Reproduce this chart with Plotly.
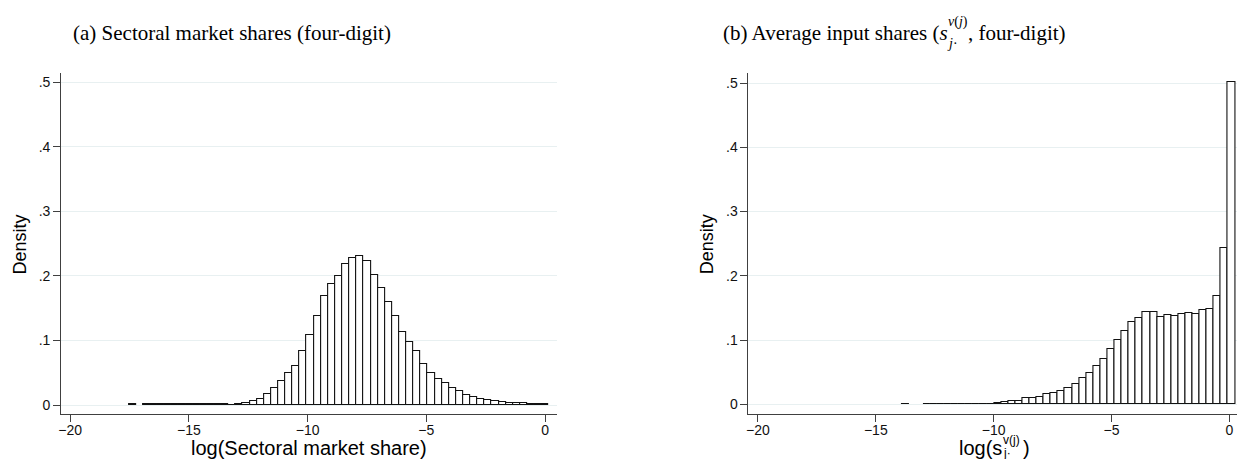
import plotly.graph_objects as go

# ---------------- data ----------------
# Panel (a): histogram of log(Sectoral market share), four-digit
left_bin_start = -17.53
left_bin_width = 0.2996
left_density = [
    0.0015, None, 0.0012, 0.0011, 0.0012, 0.0011, 0.0011, 0.0012, 0.0011, 0.0012,
    0.0011, 0.0012, 0.0011, 0.0010, 0.0004, 0.0015, 0.003, 0.006, 0.010, 0.017,
    0.027, 0.037, 0.049, 0.061, 0.084, 0.108, 0.138, 0.168, 0.188, 0.200,
    0.219, 0.227, 0.230, 0.223, 0.201, 0.181, 0.159, 0.138, 0.113, 0.098,
    0.083, 0.064, 0.050, 0.041, 0.0345, 0.027, 0.021, 0.016, 0.013, 0.010,
    0.0077, 0.006, 0.0046, 0.0036, 0.003, 0.0026, 0.002, 0.0015, 0.0015,
]

# Panel (b): histogram of log(average input share), four-digit
right_bin_start = -13.89
right_bin_width = 0.3006
right_density = [
    0.0012, None, None, 0.0012, 0.0012, 0.0012, 0.0012, 0.0012, 0.0012, 0.0012,
    0.0008, 0.0008, 0.0010, 0.002, 0.003, 0.0047, 0.0057, 0.009, 0.009, 0.012,
    0.0155, 0.017, 0.020, 0.025, 0.031, 0.041, 0.048, 0.060, 0.0705, 0.086,
    0.1006, 0.114, 0.128, 0.135, 0.143, 0.143, 0.136, 0.139, 0.137, 0.141,
    0.142, 0.141, 0.1464, 0.1485, 0.169, 0.2435, 0.501,
]

x_tick_vals = [-20, -15, -10, -5, 0]
x_tick_text = ["\u221220", "\u221215", "\u221210", "\u22125", "0"]
y_tick_vals = [0, 0.1, 0.2, 0.3, 0.4, 0.5]
y_tick_text = ["0", ".1", ".2", ".3", ".4", ".5"]

# ---------------- figure ----------------
W, H = 1237, 459


def px(x):
    return x / W


def py(y):
    return 1 - y / H


def centers(start, width, n):
    return [start + width * (i + 0.5) for i in range(n)]


SANS = "Liberation Sans, Arial, sans-serif"
SERIF = "Liberation Serif, Times New Roman, serif"
AX = "#404040"
GRID = "#e8f0f1"

fig = go.Figure()
bar_style = dict(color="white", line=dict(color="#111111", width=1.1))

fig.add_trace(go.Bar(
    x=centers(left_bin_start, left_bin_width, len(left_density)),
    y=left_density, width=left_bin_width, marker=bar_style,
    xaxis="x", yaxis="y", hoverinfo="x+y",
))
fig.add_trace(go.Bar(
    x=centers(right_bin_start, right_bin_width, len(right_density)),
    y=right_density, width=right_bin_width, marker=bar_style,
    xaxis="x2", yaxis="y2", hoverinfo="x+y",
))

ydom = [py(414.3), py(73)]
xaxis_common = dict(
    showline=True, linecolor=AX, linewidth=1, ticks="outside", ticklen=7,
    tickcolor=AX, tickwidth=1, tickvals=x_tick_vals, ticktext=x_tick_text,
    tickfont=dict(family=SANS, size=14, color="#111"), showgrid=False,
    zeroline=False, mirror=False, ticklabelstandoff=-4,
)
yaxis_common = dict(
    showline=True, linecolor=AX, linewidth=1, ticks="outside", ticklen=7,
    tickcolor=AX, tickwidth=1, tickvals=y_tick_vals, ticktext=y_tick_text,
    tickfont=dict(family=SANS, size=14, color="#111"), showgrid=True,
    gridcolor=GRID, gridwidth=1, zeroline=False, mirror=False, domain=ydom,
)

fig.update_layout(
    width=W, height=H,
    margin=dict(l=0, r=0, t=0, b=0),
    paper_bgcolor="white", plot_bgcolor="white",
    showlegend=False, bargap=0,
    xaxis=dict(domain=[px(58.3), px(555)], range=[-20.38, 0.49], anchor="y", **xaxis_common),
    yaxis=dict(range=[-0.0144, 0.514], anchor="x", **yaxis_common),
    xaxis2=dict(domain=[px(747.3), px(1236.5)], range=[-20.4, 0.30], anchor="y2", **xaxis_common),
    yaxis2=dict(range=[-0.0156, 0.5156], anchor="x2", **yaxis_common),
)

ann = []


def add(text, x, y, size, family, xanchor="center", yanchor="middle", angle=0):
    ann.append(dict(
        text=text, x=px(x), y=py(y), xref="paper", yref="paper",
        xanchor=xanchor, yanchor=yanchor, showarrow=False, textangle=angle,
        font=dict(family=family, size=size, color="#000"),
        borderpad=0, borderwidth=0,
    ))


# Panel titles
add("(a) Sectoral market shares (four-digit)", 230, 33, 21, SERIF)
add("(b) Average input shares (<i>s</i>", 947, 33, 21, SERIF, xanchor="right")
add("<i>v</i>(<i>j</i>)", 947, 22, 14, SERIF, xanchor="left")
add("<i>j</i>\u00b7", 946, 43, 14, SERIF, xanchor="left")
add(", four-digit)", 967, 33, 21, SERIF, xanchor="left")

# Y axis titles
add("Density", 17.5, 244, 18, SANS, angle=-90)
add("Density", 706, 244, 18, SANS, angle=-90)

# X axis titles
add("log(Sectoral market share)", 306.5, 448, 20, SANS)
add("log(s", 1001.5, 448, 20, SANS, xanchor="right")
add("v(j)", 1002, 440, 12, SANS, xanchor="left")
add("j\u00b7", 1002, 453, 12, SANS, xanchor="left")
add(")", 1022.5, 448, 20, SANS, xanchor="left")

fig.update_layout(annotations=ann)

fig.write_html("out.html")
